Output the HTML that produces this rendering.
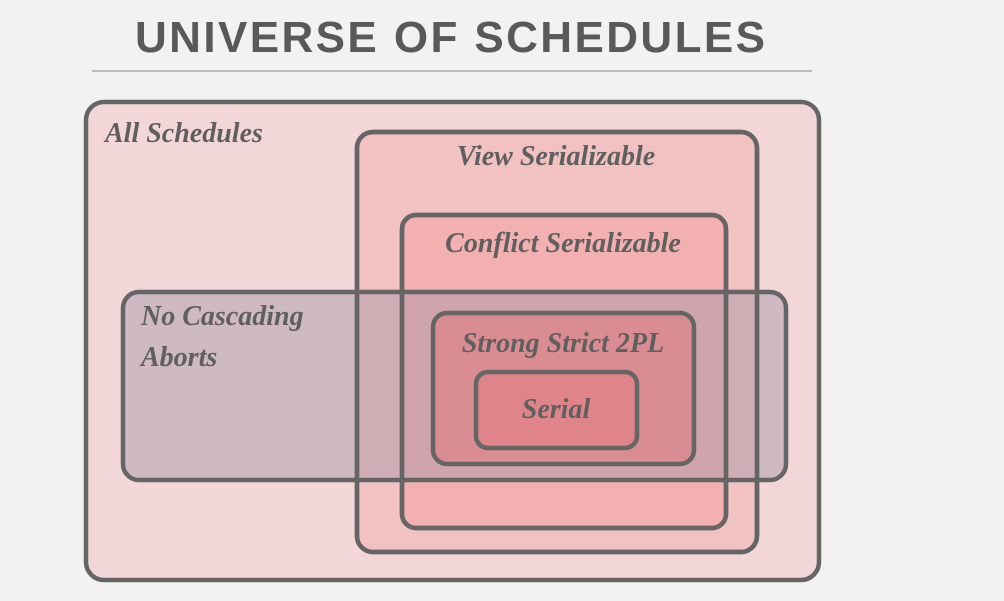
<!DOCTYPE html>
<html><head><meta charset="utf-8"><style>
html,body{margin:0;padding:0;background:#f2f2f2;width:1004px;height:601px;overflow:hidden}
</style></head><body>
<svg width="1004" height="601" xmlns="http://www.w3.org/2000/svg">
<rect width="1004" height="601" fill="#f2f2f2"/>
<text x="135" y="52" textLength="630" lengthAdjust="spacing" font-family="Liberation Sans, sans-serif" font-weight="bold" font-size="44" fill="#595959">UNIVERSE OF SCHEDULES</text>
<rect x="92" y="70" width="720" height="2" fill="#bdbdbd"/>
<g stroke="#656565" stroke-width="4.5">
<rect x="86" y="102" width="733" height="478" rx="18" fill="#f3d6d8"/>
<rect x="357" y="132" width="400" height="420" rx="16" fill="#f2c1c2"/>
<rect x="402" y="215" width="324" height="313" rx="14" fill="#f2b0b1"/>
<rect x="123" y="292" width="663" height="188" rx="16" fill="rgba(165,150,168,0.45)"/>
<rect x="357" y="132" width="400" height="420" rx="16" fill="none"/>
<rect x="402" y="215" width="324" height="313" rx="14" fill="none"/>
<rect x="433" y="313" width="261" height="151" rx="14" fill="#d98c92"/>
<rect x="476" y="372" width="161" height="76" rx="12" fill="#df858a"/>
</g>
<g font-family="Liberation Serif, serif" font-style="italic" font-weight="bold" font-size="28" fill="#5f5f5f">
<text x="105" y="142">All Schedules</text>
<text x="556" y="165" text-anchor="middle">View Serializable</text>
<text x="563" y="252" text-anchor="middle">Conflict Serializable</text>
<text x="141" y="325">No Cascading</text>
<text x="141" y="366">Aborts</text>
<text x="563" y="352" text-anchor="middle">Strong Strict 2PL</text>
<text x="556" y="418" text-anchor="middle">Serial</text>
</g>
</svg>
</body></html>
